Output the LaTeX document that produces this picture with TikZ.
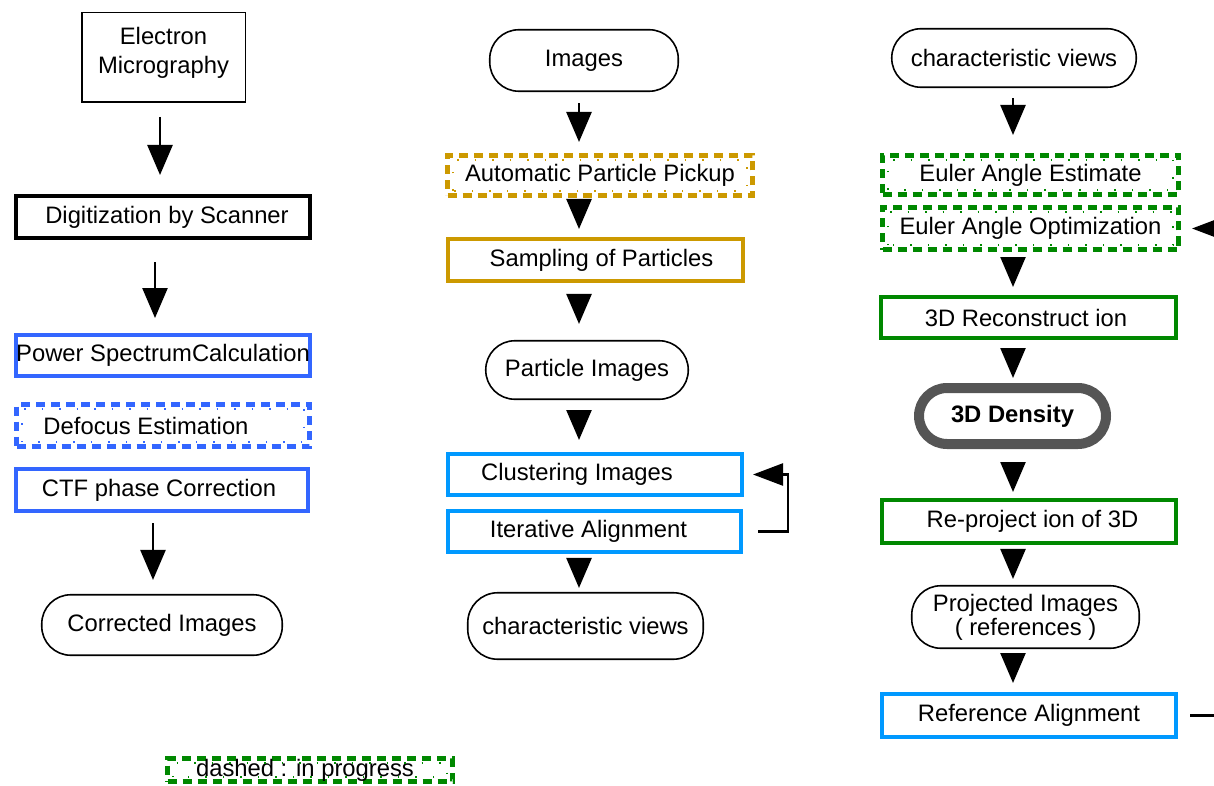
\documentclass[tikz,border=0pt]{standalone}
\usepackage{fontspec}
\setmainfont{Liberation Sans}
\usetikzlibrary{arrows.meta}
\definecolor{pblue}{HTML}{3366FF}
\definecolor{lblue}{HTML}{0099FF}
\definecolor{gold}{HTML}{CC9900}
\definecolor{dgreen}{HTML}{008800}
\definecolor{dgray}{HTML}{555555}
\tikzset{
  base/.style={rectangle, inner sep=0pt, align=center, font=\fontsize{23.8}{29}\selectfont},
  thinbox/.style={base, draw=black, line width=1.5pt},
  thickbox/.style={base, draw=#1, line width=4pt},
  term/.style={base, draw=black, line width=1.6pt, rounded corners=29pt},
  prog/.style={base, draw=#1, line width=5pt, dash pattern=on 9pt off 6pt},
  innerdots/.style={draw=#1, line width=1.5pt, dash pattern=on 1.5pt off 16pt},
  arr/.style={line width=2.5pt, -{Triangle[width=25pt,length=30pt]}},
  fb/.style={line width=2.5pt, -{Triangle[width=22pt,length=30pt]}},
}
\begin{document}
\begin{tikzpicture}[x=1pt,y=-1pt]
\useasboundingbox (0,0) rectangle (1214,786);
% column 1
\node[thinbox, minimum width=163.5pt, minimum height=89.5pt] (em) at (163.5,57.5) {\raisebox{4pt}[\height][\depth]{\begin{tabular}{@{}c@{}}Electron\\Micrography\end{tabular}}};
\node[thickbox=black, minimum width=294pt, minimum height=42pt] (dig) at (163,217) {\hspace*{8pt}Digitization by Scanner};
\node[thickbox=pblue, minimum width=294pt, minimum height=41pt] (psc) at (163,355.5) {Power SpectrumCalculation};
\node[prog=pblue, minimum width=293pt, minimum height=42pt] (def) at (163,425.5) {Defocus Estimation\hspace*{34pt}};
\node[thickbox=pblue, minimum width=292pt, minimum height=42pt] (ctf) at (162,490) {CTF phase Correction\hspace*{6pt}};
\node[term, minimum width=240.5pt, minimum height=60.5pt] (ci) at (162,625) {Corrected Images};
% column 2
\node[term, minimum width=188.5pt, minimum height=61.5pt] (img) at (584,60.5) {Images};
\node[prog=gold, minimum width=305pt, minimum height=40pt] (app) at (600,175.5) {Automatic Particle Pickup};
\node[thickbox=gold, minimum width=295pt, minimum height=42pt] (sop) at (595.5,260) {\hspace*{12pt}Sampling of Particles};
\node[term, minimum width=202.5pt, minimum height=58.5pt] (pi) at (587,370) {Particle Images};
\node[thickbox=lblue, minimum width=294pt, minimum height=41pt] (cli) at (595,474.5) {Clustering Images\hspace*{36pt}};
\node[thickbox=lblue, minimum width=293pt, minimum height=41pt] (ita) at (594.5,531.5) {Iterative Alignment\hspace*{12pt}};
\node[term, minimum width=235.5pt, minimum height=66.5pt, rounded corners=30pt] (cv) at (585.5,626) {characteristic views};
% column 3
\node[term, minimum width=244.5pt, minimum height=58.5pt] (cv3) at (1014,58) {characteristic views};
\node[prog=dgreen, minimum width=296pt, minimum height=39pt] (eae) at (1030.5,175) {Euler Angle Estimate};
\node[prog=dgreen, minimum width=296pt, minimum height=42pt] (eao) at (1030.5,228.5) {Euler Angle Optimization};
\node[thickbox=dgreen, minimum width=295pt, minimum height=41pt] (rec) at (1028.5,317.5) {3D Reconstruct ion\hspace*{5pt}};
\node[base, draw=dgray, line width=10pt, rounded corners=28pt, minimum width=187pt, minimum height=56pt, font=\fontsize{23.8}{29}\selectfont\bfseries] (den) at (1012.5,416) {3D Density};
\node[thickbox=dgreen, minimum width=294pt, minimum height=43pt] (rep) at (1029,521.5) {\hspace*{7pt}Re-project ion of 3D};
\node[term, minimum width=227.5pt, minimum height=62.5pt, font=\fontsize{23.8}{24}\selectfont] (prj) at (1025.5,617) {Projected Images\\( references )};
\node[thickbox=lblue, minimum width=294pt, minimum height=43pt] (ref) at (1029,715.5) {Reference Alignment};
% legend
\node[prog=dgreen, minimum width=285pt, minimum height=23pt] (leg) at (310,770) {dashed : in progress\hspace*{10pt}};
% inner dotted lines of dashed boxes
\foreach \n/\c in {def/pblue, app/gold, eae/dgreen, eao/dgreen, leg/dgreen}
  \draw[innerdots=\c] ([shift={(8pt,7pt)}]\n.south west) rectangle ([shift={(-8pt,-7pt)}]\n.north east);
% x positions of connectors
\coordinate (x1a) at (160,0);
\coordinate (x1b) at (155,0);
\coordinate (x1c) at (153,0);
\coordinate (x2) at (579,0);
\coordinate (x3) at (1013,0);
\coordinate (fb1) at (788,500);
\coordinate (fb2) at (1245,500);
% column 1 arrows
\draw[arr, shorten <=14pt, shorten >=19pt] (em.south -| x1a) -- (dig.north -| x1a);
\draw[arr, shorten <=22pt, shorten >=15pt] (dig.south -| x1b) -- (psc.north -| x1b);
\draw[arr, shorten <=10pt, shorten >=14pt] (ctf.south -| x1c) -- (ci.north -| x1c);
% column 2 arrows
\draw[arr, shorten <=11pt, shorten >=11pt] (img.south -| x2) -- (app.north -| x2);
\draw[arr, shorten <=1pt, shorten >=8pt] (app.south -| x2) -- (sop.north -| x2);
\draw[arr, shorten <=11pt, shorten >=16pt] (sop.south -| x2) -- (pi.north -| x2);
\draw[arr, shorten <=10pt, shorten >=12pt] (pi.south -| x2) -- (cli.north -| x2);
\draw[arr, shorten <=4pt, shorten >=4pt] (ita.south -| x2) -- (cv.north -| x2);
\draw[fb, shorten <=15pt, shorten >=9pt] (ita.east) -| (fb1) |- (cli.east);
% column 3 arrows
\draw[arr, shorten <=10pt, shorten >=18pt] (cv3.south -| x3) -- (eae.north -| x3);
\draw[arr, shorten <=5pt, shorten >=8pt] (eao.south -| x3) -- (rec.north -| x3);
\draw[arr, shorten <=8pt, shorten >=5pt] (rec.south -| x3) -- (den.north -| x3);
\draw[arr, shorten <=13pt, shorten >=6pt] (den.south -| x3) -- (rep.north -| x3);
\draw[arr, shorten <=4pt, shorten >=6pt] (rep.south -| x3) -- (prj.north -| x3);
\draw[arr, shorten <=4pt, shorten >=9pt] (prj.south -| x3) -- (ref.north -| x3);
\draw[fb, shorten <=12pt, shorten >=11pt] (ref.east) -| (fb2) |- (eao.east);
\end{tikzpicture}
\end{document}
